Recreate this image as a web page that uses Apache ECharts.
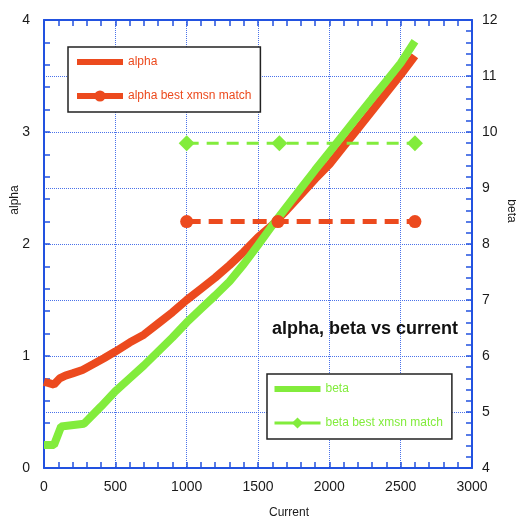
<!DOCTYPE html>
<html>
<head>
<meta charset="utf-8">
<script src="https://cdn.jsdelivr.net/npm/echarts@6/dist/echarts.min.js"></script>
<style>html,body{margin:0;padding:0;background:#fff}#c{width:516px;height:522px}</style>
</head>
<body>
<div id="c"></div>
<script>
// ---- data ----
var alphaCurrent = [0, 30, 70, 110, 150, 200, 270, 350, 420, 500, 600, 700, 800, 900, 1000, 1100, 1200, 1300, 1400, 1500, 1600, 1700, 1800, 1900, 2000, 2100, 2200, 2300, 2400, 2500, 2600];
var alphaValues  = [0.77, 0.76, 0.745, 0.80, 0.825, 0.845, 0.875, 0.93, 0.98, 1.04, 1.12, 1.19, 1.29, 1.39, 1.50, 1.60, 1.70, 1.81, 1.93, 2.06, 2.17, 2.30, 2.44, 2.58, 2.71, 2.87, 3.03, 3.19, 3.35, 3.51, 3.68];
var betaCurrent  = [0, 70, 120, 280, 400, 500, 600, 700, 800, 900, 1000, 1100, 1200, 1300, 1400, 1500, 1600, 1700, 1800, 1900, 2000, 2100, 2200, 2300, 2400, 2500, 2600];
var betaValues   = [4.41, 4.41, 4.74, 4.79, 5.10, 5.37, 5.60, 5.83, 6.08, 6.33, 6.60, 6.84, 7.08, 7.33, 7.64, 7.98, 8.33, 8.66, 8.99, 9.32, 9.64, 9.96, 10.28, 10.60, 10.91, 11.23, 11.62];
var alphaBestCurrent = [1000, 1640, 2600];
var alphaBestValues  = [2.2, 2.2, 2.2];
var betaBestCurrent  = [1000, 1650, 2600];
var betaBestValues   = [9.8, 9.8, 9.8];
var xTicks = [0, 500, 1000, 1500, 2000, 2500, 3000];
var alphaTicks = [0, 1, 2, 3, 4];
var betaTicks = [4, 5, 6, 7, 8, 9, 10, 11, 12];
var seriesNames = ['alpha', 'alpha best xmsn match', 'beta', 'beta best xmsn match'];

function pairs(xs, ys) { return xs.map(function (x, i) { return [x, ys[i]]; }); }

var RED = '#ec4a1e', GREEN = '#82ec3c', BLUE = '#2252e0', GRIDC = '#4a72ea', TXT = '#1a1a1a';
var FONT = '"Liberation Sans", Arial, Helvetica, sans-serif';
var BAR_ICON = 'path://M0,0L46,0L46,6L0,6Z';

var chart = echarts.init(document.getElementById('c'), null, {renderer: 'canvas'});
var tickStyle = {show: true, inside: true, length: 6, lineStyle: {color: BLUE, width: 1.5}};
var minorStyle = {show: true, splitNumber: 5, length: 6, lineStyle: {color: BLUE, width: 1.5}};
var plainNum = function (v) { return String(v); };

function legendBox(left, top, names, color, bestWidth) {
  return {
    orient: 'vertical', left: left, top: top,
    padding: [9, 9, 10, 6], itemGap: 22, itemWidth: 46, itemHeight: 14,
    backgroundColor: '#fff', borderColor: '#222', borderWidth: 1.5,
    selectedMode: false, symbolKeepAspect: true,
    textStyle: {color: color, fontSize: 12, fontFamily: FONT},
    data: [
      {name: names[0], icon: BAR_ICON, itemStyle: {color: color}},
      {name: names[1], lineStyle: {type: 'solid', width: bestWidth, color: color}}
    ]
  };
}

chart.setOption({
  animation: false,
  backgroundColor: '#fff',
  title: {
    text: 'alpha, beta vs current', left: 272, top: 320, padding: 0,
    textStyle: {fontSize: 18, fontWeight: 'bold', color: '#111', fontFamily: FONT}
  },
  legend: [
    legendBox(68, 47, [seriesNames[0], seriesNames[1]], RED, 6),
    legendBox(267, 374, [seriesNames[2], seriesNames[3]], GREEN, 3)
  ],
  grid: {left: 44, right: 44, top: 20, bottom: 54, containLabel: false, outerBoundsMode: 'none'},
  xAxis: [{
    type: 'value', min: xTicks[0], max: xTicks[xTicks.length - 1], interval: 500,
    name: 'Current', nameLocation: 'middle', nameGap: 39, nameMoveOverlap: false,
    nameTextStyle: {color: TXT, fontSize: 12, fontFamily: FONT, padding: [0, 0, 0, 62]},
    axisLine: {show: true, onZero: false, lineStyle: {color: BLUE, width: 2}},
    axisTick: tickStyle, minorTick: minorStyle,
    axisLabel: {color: TXT, fontSize: 14, fontFamily: FONT, margin: 12, formatter: plainNum},
    splitLine: {show: true, lineStyle: {color: GRIDC, type: 'dotted', width: 1}}
  }, {
    type: 'value', position: 'top', min: xTicks[0], max: xTicks[xTicks.length - 1], interval: 500,
    axisLine: {show: true, onZero: false, lineStyle: {color: BLUE, width: 2}},
    axisTick: tickStyle, minorTick: minorStyle,
    axisLabel: {show: false}, splitLine: {show: false}
  }],
  yAxis: [{
    type: 'value', min: alphaTicks[0], max: alphaTicks[alphaTicks.length - 1], interval: 1,
    name: 'alpha', nameLocation: 'middle', nameGap: 23, nameRotate: 90, nameMoveOverlap: false,
    nameTextStyle: {color: TXT, fontSize: 12, fontFamily: FONT, padding: [0, 0, 0, 88]},
    axisLine: {show: true, onZero: false, lineStyle: {color: BLUE, width: 2}},
    axisTick: tickStyle, minorTick: minorStyle,
    axisLabel: {color: TXT, fontSize: 14, fontFamily: FONT, margin: 14, formatter: plainNum},
    splitLine: {show: false}
  }, {
    type: 'value', position: 'right', min: betaTicks[0], max: betaTicks[betaTicks.length - 1], interval: 1,
    name: 'beta', nameLocation: 'middle', nameGap: 33, nameRotate: -90, nameMoveOverlap: false,
    nameTextStyle: {color: TXT, fontSize: 12, fontFamily: FONT, padding: [0, 66, 0, 0]},
    axisLine: {show: true, onZero: false, lineStyle: {color: BLUE, width: 2}},
    axisTick: tickStyle, minorTick: minorStyle,
    axisLabel: {color: TXT, fontSize: 14, fontFamily: FONT, margin: 10, formatter: plainNum},
    splitLine: {show: true, lineStyle: {color: GRIDC, type: 'dotted', width: 1}}
  }],
  series: [{
    name: seriesNames[0], type: 'line', xAxisIndex: 0, yAxisIndex: 0,
    data: pairs(alphaCurrent, alphaValues), showSymbol: false, symbol: 'none',
    lineStyle: {color: RED, width: 8}, itemStyle: {color: RED}, z: 2
  }, {
    name: seriesNames[2], type: 'line', xAxisIndex: 0, yAxisIndex: 1,
    data: pairs(betaCurrent, betaValues), showSymbol: false, symbol: 'none',
    lineStyle: {color: GREEN, width: 8}, itemStyle: {color: GREEN}, z: 3
  }, {
    name: seriesNames[1], type: 'line', xAxisIndex: 0, yAxisIndex: 0,
    data: pairs(alphaBestCurrent, alphaBestValues), symbol: 'circle', symbolSize: 13,
    lineStyle: {color: RED, width: 5, type: [14, 8]}, itemStyle: {color: RED}, z: 4
  }, {
    name: seriesNames[3], type: 'line', xAxisIndex: 0, yAxisIndex: 1,
    data: pairs(betaBestCurrent, betaBestValues), symbol: 'diamond', symbolSize: [16, 16],
    lineStyle: {color: GREEN, width: 3, type: [12, 8]}, itemStyle: {color: GREEN}, z: 5
  }]
});
</script>
</body>
</html>
